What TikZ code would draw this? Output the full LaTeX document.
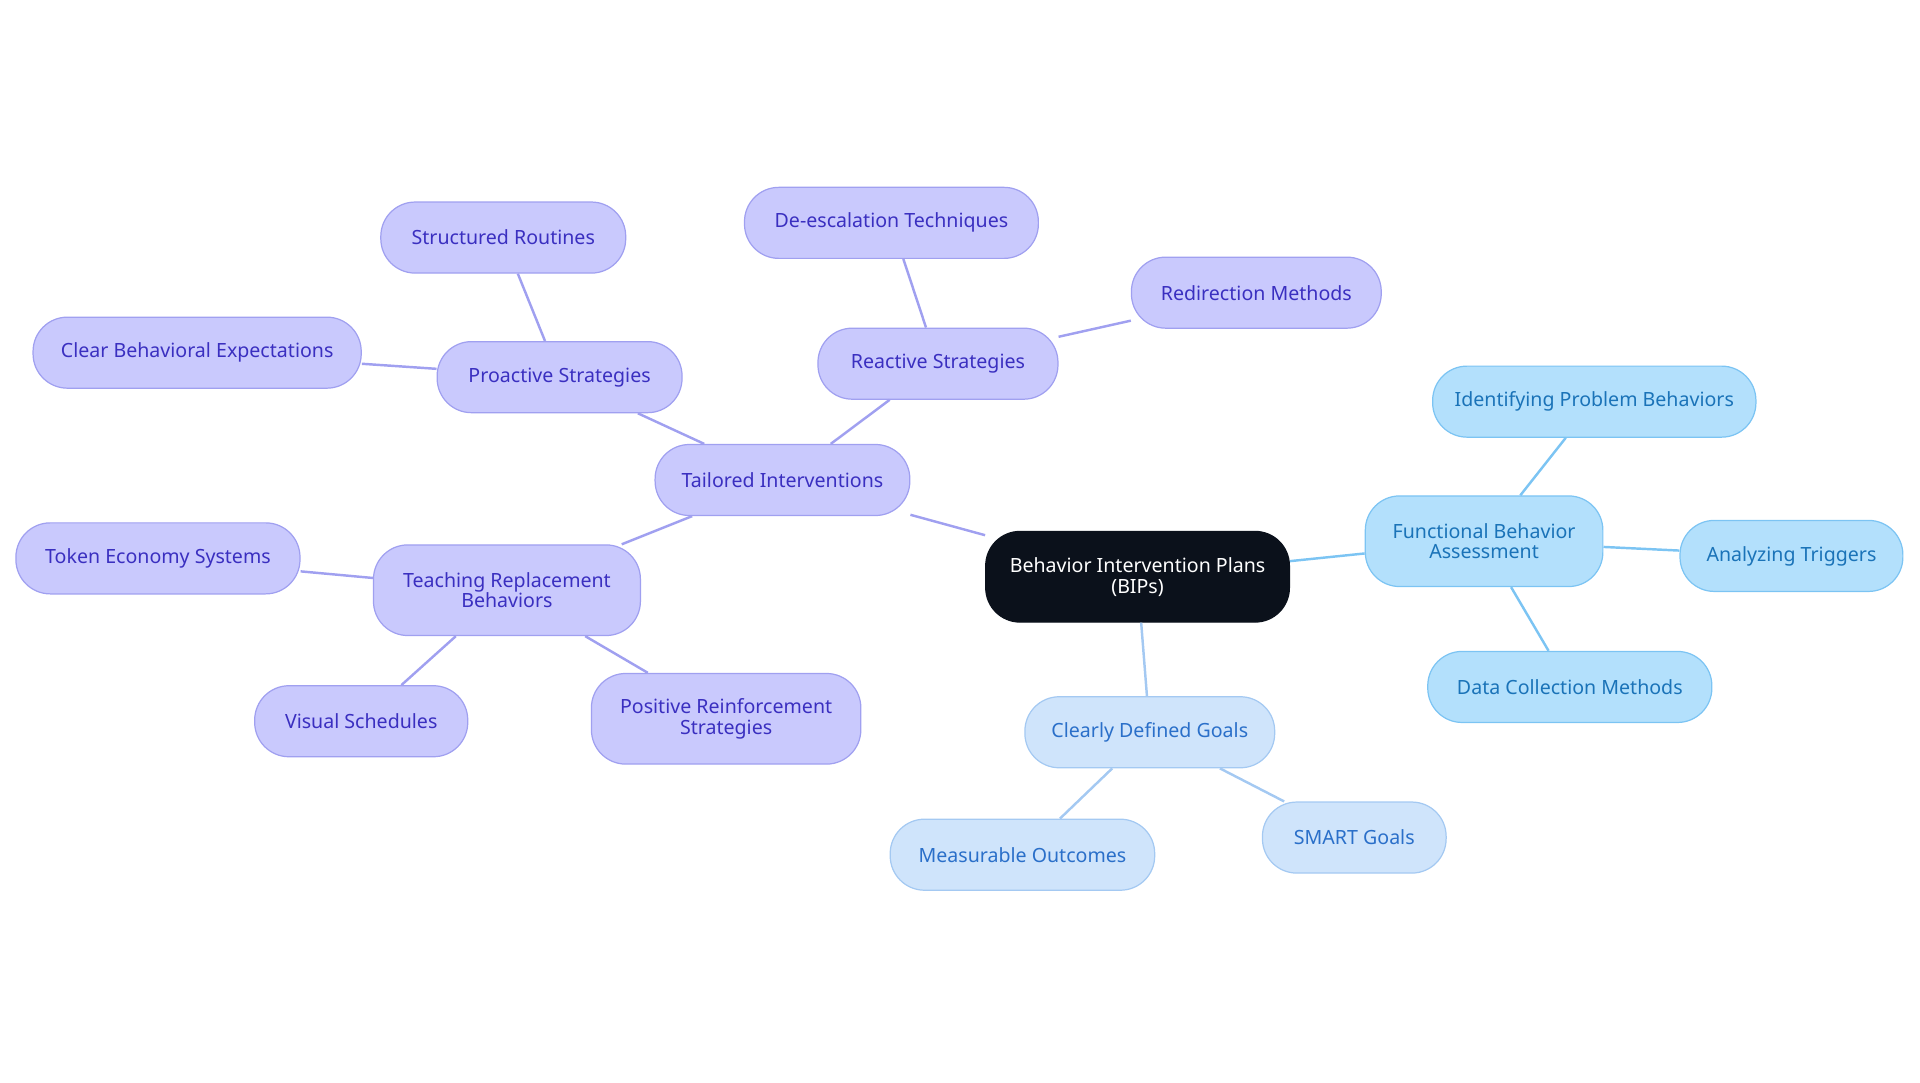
\documentclass[tikz,border=0pt]{standalone}
\usepackage{fontspec}
\setmainfont{Noto Sans}
\definecolor{pf}{HTML}{C9C9FD}\definecolor{pb}{HTML}{A0A0F0}\definecolor{pt}{HTML}{3A2FC0}
\definecolor{bf}{HTML}{B3E0FC}\definecolor{bb}{HTML}{7CC4F3}\definecolor{bt}{HTML}{1A73B8}
\definecolor{lf}{HTML}{CFE4FB}\definecolor{lb}{HTML}{A4C9F2}\definecolor{lt}{HTML}{2A6FC9}
\definecolor{rootc}{HTML}{0B111B}
\begin{document}
\begin{tikzpicture}[x=0.5pt,y=-0.5pt,
 box/.style={rounded corners=14pt,minimum height=29pt,align=center,font=\fontsize{8}{8.5}\selectfont,line width=0.5pt,inner sep=1pt},
 pbox/.style={box,fill=pf,draw=pb,text=pt},
 bbox/.style={box,fill=bf,draw=bb,text=bt},
 lbox/.style={box,fill=lf,draw=lb,text=lt},
 pl/.style={draw=pb,line width=1pt},
 bl/.style={draw=bb,line width=1pt},
 ll/.style={draw=lb,line width=1pt}]
\useasboundingbox (0,0) rectangle (1568,884);
\node[box,fill=rootc,draw=rootc,text=white,minimum width=124pt,minimum height=37pt] (root) at (929,471) {Behavior Intervention Plans\\(BIPs)};
\node[pbox,minimum width=104pt] (ti) at (639,392) {Tailored Interventions};
\node[pbox,minimum width=100pt] (ps) at (457,308) {Proactive Strategies};
\node[pbox,minimum width=100pt] (sr) at (411,194) {Structured Routines};
\node[pbox,minimum width=134pt] (cb) at (161,288) {Clear Behavioral Expectations};
\node[pbox,minimum width=98pt] (rs) at (766,297) {Reactive Strategies};
\node[pbox,minimum width=120pt] (de) at (728,182) {De-escalation Techniques};
\node[pbox,minimum width=102pt] (rm) at (1026,239) {Redirection Methods};
\node[pbox,minimum width=109pt,minimum height=37pt] (tr) at (414,482) {Teaching Replacement\\Behaviors};
\node[pbox,minimum width=116pt] (te) at (129,456) {Token Economy Systems};
\node[pbox,minimum width=87pt] (vs) at (295,589) {Visual Schedules};
\node[pbox,minimum width=110pt,minimum height=37pt] (pr) at (593,587) {Positive Reinforcement\\Strategies};
\node[bbox,minimum width=97pt,minimum height=37pt] (fb) at (1212,442) {Functional Behavior\\Assessment};
\node[bbox,minimum width=132pt] (ip) at (1302,328) {Identifying Problem Behaviors};
\node[bbox,minimum width=91pt] (at) at (1463,454) {Analyzing Triggers};
\node[bbox,minimum width=116pt] (dc) at (1282,561) {Data Collection Methods};
\node[lbox,minimum width=102pt] (cg) at (939,598) {Clearly Defined Goals};
\node[lbox,minimum width=108pt] (mo) at (835,698) {Measurable Outcomes};
\node[lbox,minimum width=75pt] (sg) at (1106,684) {SMART Goals};
\begin{scope}[on background layer/.style={}]
\end{scope}
\path[pl] (root) -- (ti) (ti) -- (ps) (ps) -- (sr) (ps) -- (cb) (ti) -- (rs) (rs) -- (de) (rs) -- (rm)
 (ti) -- (tr) (tr) -- (te) (tr) -- (vs) (tr) -- (pr);
\path[bl] (root) -- (fb) (fb) -- (ip) (fb) -- (at) (fb) -- (dc);
\path[ll] (root) -- (cg) (cg) -- (mo) (cg) -- (sg);
\end{tikzpicture}
\end{document}
